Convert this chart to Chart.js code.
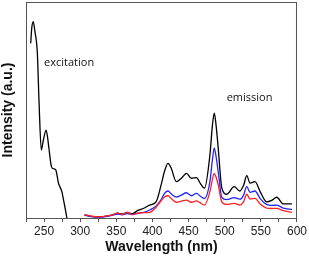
<!DOCTYPE html>
<html>
<head>
<meta charset="utf-8">
<script src="https://cdn.jsdelivr.net/npm/chart.js@4"></script>
<style>
  html, body { margin: 0; padding: 0; background: #fff; }
  #chart { display: block; }
</style>
</head>
<body>
<canvas id="chart" width="309" height="258"></canvas>
<script>
// excitation spectrum (black, left)
const excWavelength = [231.5, 233, 235, 237.5, 240.7, 243, 246.2, 249, 252.8, 255, 257, 260.2, 263, 266.3, 269.9, 274.6, 277.8, 281.6];
const excIntensity  = [80.9, 88, 90.9, 86, 76.4, 54.2, 31.5, 36, 40.7, 37, 31.5, 23.8, 22.8, 22.2, 16.2, 12.2, 6.9, 0];

// emission spectra, common wavelength grid
const emWavelength = [306, 315, 325, 335, 345, 352, 358, 365, 372, 380, 388, 396, 405, 412, 417, 421.5, 426, 433, 440, 447, 454, 461, 466, 472, 479.5, 483, 485.5, 488, 491, 496, 503, 513, 521, 526, 530.5, 535, 542, 549, 558, 565, 572, 581, 593];
const emBlack = [1.5, 0.8, 0.5, 0.8, 1.5, 2.2, 1.8, 2.6, 2.0, 3.5, 4.5, 6.0, 7.5, 15.3, 22, 25.3, 23, 16.8, 18.4, 20.7, 18.4, 18.7, 16.1, 13.8, 29.2, 43, 48.5, 43, 32.3, 13.8, 11.0, 14.5, 12.5, 15, 19.6, 16.1, 16.8, 12.2, 7.5, 8.2, 9.6, 6.5, 6.5];
const emBlue  = [1.3, 0.6, 0.4, 0.7, 1.3, 1.8, 1.5, 2.0, 1.6, 2.2, 2.6, 3.7, 5.5, 8.5, 11.5, 12.5, 11.2, 9.7, 10.6, 11.7, 10.3, 11.4, 10.2, 9.0, 16.8, 27, 32.5, 28.5, 21.4, 9.5, 8.5, 9.4, 8.7, 10.5, 14.5, 11.9, 12.5, 9.0, 6.3, 5.8, 6.0, 4.6, 4.0];
const emRed   = [1.5, 0.9, 0.5, 0.9, 1.5, 2.3, 1.6, 2.6, 1.6, 2.3, 2.5, 2.6, 5.0, 8.0, 9.8, 10.3, 9.0, 7.3, 7.8, 8.3, 7.3, 7.9, 7.0, 6.0, 12.2, 18, 20.7, 19, 15.3, 7.5, 6.3, 6.8, 6.0, 7.5, 11.0, 8.8, 9.1, 6.5, 4.6, 4.4, 4.5, 3.4, 2.6];

// text labels inside the plot: [text, wavelength, intensity]
const notes = [
  ['excitation', 250, 71.8],
  ['emission', 502.7, 55.4]
];

function pts(xs, ys) {
  return xs.map((x, i) => ({ x: x, y: ys[i] }));
}

// рамка вокруг области графика + подписи
const framePlugin = {
  id: 'frame',
  afterDraw: (chart) => {
    const ctx = chart.ctx;
    const a = chart.chartArea;
    ctx.save();
    ctx.strokeStyle = '#555';
    ctx.lineWidth = 1;
    ctx.strokeRect(a.left + 0.5, a.top + 0.5, a.right - a.left - 1, a.bottom - a.top);
    ctx.fillStyle = '#111';
    ctx.font = '11px "Open Sans"';
    ctx.textAlign = 'left';
    ctx.textBaseline = 'middle';
    notes.forEach(n => {
      ctx.fillText(n[0], chart.scales.x.getPixelForValue(n[1]), chart.scales.y.getPixelForValue(n[2]));
    });
    ctx.restore();
  }
};

const line = (data, color) => ({
  data: data,
  borderColor: color,
  borderWidth: 1.3,
  pointRadius: 0,
  fill: false,
  cubicInterpolationMode: 'monotone'
});

new Chart(document.getElementById('chart'), {
  type: 'line',
  data: {
    datasets: [
      line(pts(emWavelength, emRed), '#ff2222'),
      line(pts(emWavelength, emBlue), '#2222ff'),
      line(pts(emWavelength, emBlack), '#000'),
      line(pts(excWavelength, excIntensity), '#000')
    ]
  },
  options: {
    responsive: false,
    animation: false,
    devicePixelRatio: 1,
    layout: { padding: { top: 2, right: 12, left: 0, bottom: 0 } },
    plugins: {
      legend: { display: false },
      tooltip: { enabled: false }
    },
    scales: {
      x: {
        type: 'linear',
        min: 225,
        max: 600,
        afterFit: (s) => { s.height = 40; },
        border: { color: '#555', width: 1 },
        grid: { drawOnChartArea: false, drawTicks: true, tickLength: 4, color: '#555' },
        ticks: {
          stepSize: 25,
          padding: 2,
          autoSkip: false,
          maxRotation: 0,
          color: '#222',
          font: { family: 'Liberation Sans, Arial', size: 12 },
          callback: (v) => (v % 50 === 0 ? v : '')
        },
        title: {
          display: true,
          text: 'Wavelength (nm)',
          color: '#111',
          padding: { top: 0, bottom: 2 },
          font: { family: 'Liberation Sans, Arial', size: 14, weight: 'bold' }
        }
      },
      y: {
        min: 0,
        max: 100,
        afterFit: (s) => { s.width = 26; },
        border: { color: '#555', width: 1 },
        grid: { display: false },
        ticks: { display: false },
        title: {
          display: true,
          text: 'Intensity (a.u.)',
          color: '#111',
          padding: 0,
          font: { family: 'Liberation Sans, Arial', size: 14, weight: 'bold' }
        }
      }
    }
  },
  plugins: [framePlugin]
});
</script>
</body>
</html>
